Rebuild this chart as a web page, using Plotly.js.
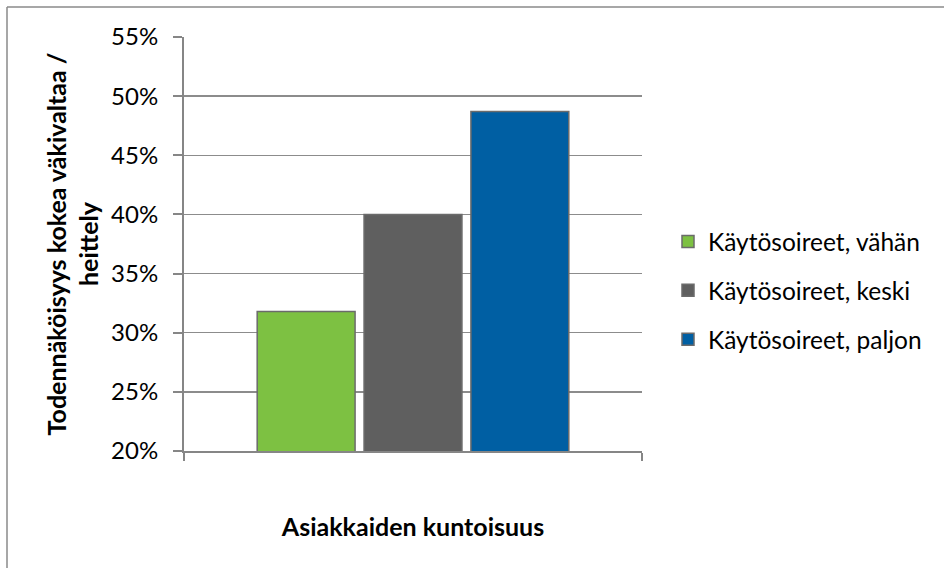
<!DOCTYPE html>
<html>
<head>
<meta charset="utf-8">
<script src="https://cdn.plot.ly/plotly-3.0.1.min.js"></script>
<style>
html,body{margin:0;padding:0;background:#fff;}
#chart{width:944px;height:568px;}
</style>
</head>
<body>
<div id="chart"></div>
<script>
var categories = ['Asiakkaiden kuntoisuus'];
var seriesNames = ['Käytösoireet, vähän', 'Käytösoireet, keski', 'Käytösoireet, paljon'];
var vahan = [0.318];
var keski = [0.400];
var paljon = [0.487];
var yTickVals = [0.20, 0.25, 0.30, 0.35, 0.40, 0.45, 0.50, 0.55];
var colors = ['#7DC142', '#5F5F5F', '#005FA3'];

var seriesValues = [vahan, keski, paljon];
var FONT = 'Lato, "Open Sans", sans-serif';

var traces = seriesValues.map(function (vals, i) {
  return {
    type: 'bar',
    name: seriesNames[i],
    x: categories,
    y: vals,
    legendgroup: 'g' + i,
    marker: {color: colors[i], line: {color: '#6b6b6b', width: 1.5}},
    hoverinfo: 'name+y'
  };
});

// plot area: x 184..642, y 37..451
var L = 184, R = 944 - 642, T = 37, B = 568 - 451;
var PW = 944 - L - R, PH = 568 - T - B;
function px2x(p) { return (p - L) / PW; }
function px2y(p) { return (568 - B - p) / PH; }

var layout = {
  width: 944,
  height: 568,
  margin: {l: L, r: R, t: T, b: B, pad: 0},
  paper_bgcolor: '#ffffff',
  plot_bgcolor: '#ffffff',
  font: {family: FONT, size: 24, color: '#000'},
  barmode: 'group',
  bargap: 0.30,
  bargroupgap: 0.084,
  showlegend: true,
  legend: {
    x: px2x(668), xanchor: 'left',
    y: px2y(219), yanchor: 'top',
    font: {family: FONT, size: 24.5, color: '#000'},
    traceorder: 'grouped',
    tracegroupgap: 14,
    bgcolor: 'rgba(0,0,0,0)'
  },
  xaxis: {
    type: 'category',
    range: [-0.5, 0.5],
    showticklabels: false,
    ticks: 'outside',
    tickson: 'boundaries',
    ticklen: 8,
    tickwidth: 2,
    tickcolor: '#868686',
    showline: true,
    linecolor: '#868686',
    linewidth: 2,
    showgrid: false,
    zeroline: false,
    title: {text: '<b>Asiakkaiden kuntoisuus</b>', font: {family: FONT, size: 25, color: '#000'}, standoff: 66}
  },
  yaxis: {
    range: [0.2, 0.55],
    tickvals: yTickVals,
    tickformat: '.0%',
    ticks: 'outside',
    ticklen: 9,
    tickwidth: 2,
    tickcolor: '#868686',
    ticklabelstandoff: 10,
    showline: true,
    linecolor: '#868686',
    linewidth: 2,
    showgrid: true,
    gridcolor: '#8c8c8c',
    gridwidth: 1.5,
    zeroline: false,
    tickfont: {family: FONT, size: 24, color: '#000'},
    title: {text: '<b>Todennäköisyys kokea väkivaltaa /<br>heittely</b>', font: {family: FONT, size: 25, color: '#000'}, standoff: 5}
  },
  shapes: [
    {type: 'line', xref: 'paper', yref: 'paper', x0: px2x(7), x1: px2x(7), y0: px2y(600), y1: px2y(7), line: {color: '#8a8a8a', width: 1.5}},
    {type: 'line', xref: 'paper', yref: 'paper', x0: px2x(7), x1: px2x(960), y0: px2y(7), y1: px2y(7), line: {color: '#8a8a8a', width: 1.5}}
  ]
};

Plotly.newPlot('chart', traces, layout, {displayModeBar: false, staticPlot: true});
</script>
</body>
</html>
